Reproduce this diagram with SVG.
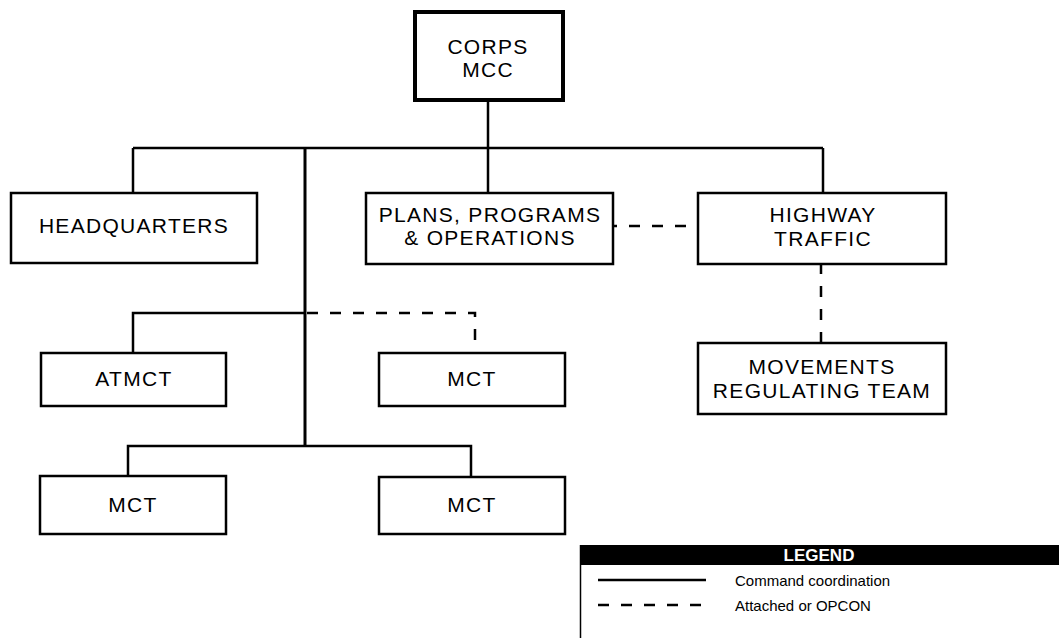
<svg xmlns="http://www.w3.org/2000/svg" width="1059" height="638" viewBox="0 0 1059 638">
  <style>
    .box { fill: #fff; stroke: #000; stroke-width: 2.5; }
    .top { stroke-width: 4; }
    .lbl { font-family: "Liberation Sans", Arial, Helvetica, sans-serif; font-size: 21px; letter-spacing: 1.3px; text-anchor: middle; fill: #000; }
    .ln { fill: none; stroke: #000; stroke-width: 2.5; }
    .trunk { stroke-width: 3; }
    .dash { fill: none; stroke: #000; stroke-width: 2.5; stroke-dasharray: 11 12; }
    .leg { font-family: "Liberation Sans", Arial, Helvetica, sans-serif; font-size: 15px; fill: #000; }
  </style>
  <rect width="1059" height="638" fill="#fff"/>

  <!-- connectors -->
  <g id="connectors">
    <path class="ln" d="M488 100 V148 M133 148 H823 M133 148 V193 M488 148 V193 M823 148 V193"/>
    <path class="ln trunk" d="M305 148 V446"/>
    <path class="ln" d="M305 313 H133 V353"/>
    <path class="ln" d="M128 476 V446 H471 V477"/>
    <path class="dash" d="M305 313 H475 V353" stroke-dashoffset="-2"/>
    <path class="dash" d="M698 226 H613" stroke-dashoffset="-12"/>
    <path class="dash" d="M821 343 V264"/>
  </g>

  <g id="corps-mcc">
    <rect class="box top" x="415" y="12" width="148" height="88"/>
    <text class="lbl" x="488" y="54">CORPS</text>
    <text class="lbl" x="488" y="77">MCC</text>
  </g>

  <g id="headquarters">
    <rect class="box" x="11" y="193" width="246" height="70"/>
    <text class="lbl" x="134" y="233">HEADQUARTERS</text>
  </g>

  <g id="plans-programs-operations">
    <rect class="box" x="366" y="193" width="247" height="71"/>
    <text class="lbl" x="490" y="222">PLANS, PROGRAMS</text>
    <text class="lbl" x="490" y="245">&amp; OPERATIONS</text>
  </g>

  <g id="highway-traffic">
    <rect class="box" x="698" y="193" width="248" height="71"/>
    <text class="lbl" x="823" y="222">HIGHWAY</text>
    <text class="lbl" x="823" y="246">TRAFFIC</text>
  </g>

  <g id="movements-regulating-team">
    <rect class="box" x="698" y="343" width="248" height="71"/>
    <text class="lbl" x="822" y="374">MOVEMENTS</text>
    <text class="lbl" x="822" y="398">REGULATING TEAM</text>
  </g>

  <g id="atmct">
    <rect class="box" x="41" y="353" width="185" height="53"/>
    <text class="lbl" x="134" y="386">ATMCT</text>
  </g>

  <g id="mct-attached">
    <rect class="box" x="379" y="353" width="186" height="53"/>
    <text class="lbl" x="472" y="386">MCT</text>
  </g>

  <g id="mct-left">
    <rect class="box" x="40" y="476" width="186" height="58"/>
    <text class="lbl" x="133" y="512">MCT</text>
  </g>

  <g id="mct-right">
    <rect class="box" x="379" y="477" width="186" height="57"/>
    <text class="lbl" x="472" y="512">MCT</text>
  </g>

  <!-- legend -->
  <g id="legend">
    <rect x="580" y="545" width="479" height="20" fill="#000"/>
    <line x1="580.5" y1="545" x2="580.5" y2="638" stroke="#000" stroke-width="1.5"/>
    <text x="819" y="561" font-family="Liberation Sans, Arial, sans-serif" font-size="17" font-weight="bold" fill="#fff" text-anchor="middle">LEGEND</text>
    <line class="ln" x1="598" y1="580" x2="706" y2="580"/>
    <line class="dash" x1="598" y1="605" x2="706" y2="605"/>
    <text class="leg" x="735" y="586">Command coordination</text>
    <text class="leg" x="735" y="611">Attached or OPCON</text>
  </g>
</svg>
